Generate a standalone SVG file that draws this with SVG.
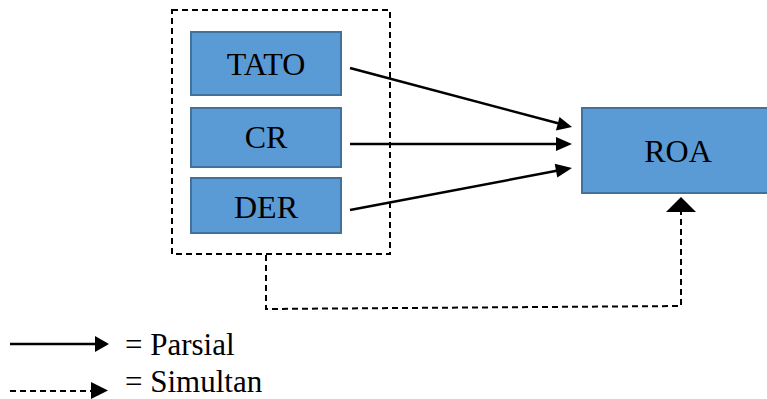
<svg xmlns="http://www.w3.org/2000/svg" width="767" height="399" viewBox="0 0 767 399" font-family="Liberation Serif">
<style>
.box{fill:#5B9BD5;stroke:#41719C;stroke-width:2}
.solid{fill:none;stroke:#000;stroke-width:2.5}
.dash{fill:none;stroke:#000;stroke-width:2;stroke-dasharray:6 4}
</style>
<rect width="767" height="399" fill="#fff"/>
<rect x="172" y="10" width="218" height="244" class="dash"/>
<g id="TATO"><rect x="191" y="32" width="150" height="63" class="box"/><text x="266" y="75" style="font-family:'Liberation Serif','Times New Roman',serif;font-size:32px" text-anchor="middle">TATO</text></g>
<g id="CR"><rect x="191" y="108" width="150" height="59" class="box"/><text x="266" y="148" style="font-family:'Liberation Serif','Times New Roman',serif;font-size:32px" text-anchor="middle">CR</text></g>
<g id="DER"><rect x="191" y="178" width="150" height="55" class="box"/><text x="266" y="218" style="font-family:'Liberation Serif','Times New Roman',serif;font-size:32px" text-anchor="middle">DER</text></g>
<g id="ROA"><rect x="582" y="108" width="194" height="85" class="box"/><text x="678" y="162" style="font-family:'Liberation Serif','Times New Roman',serif;font-size:32px" text-anchor="middle">ROA</text></g>
<g id="connectors">
<line x1="350" y1="68" x2="558" y2="123.3" class="solid"/>
<path d="M572,127 L555.9,130.5 L559.5,116.9 Z"/>
<line x1="350" y1="144" x2="558" y2="144" class="solid"/>
<path d="M572,144 L556,151 L556,137 Z"/>
<line x1="350" y1="210" x2="558" y2="170.6" class="solid"/>
<path d="M572,168 L557.3,177.5 L554.7,163.7 Z"/>
<path d="M266,255 V309 L681,306 V212" class="dash"/>
<path d="M666,212 L681,197 L696,212 Z"/>
</g>
<g id="legend">
<line x1="10" y1="344" x2="95" y2="344" class="solid"/>
<path d="M95,336 L109,344 L95,352 Z"/>
<line x1="10" y1="391" x2="91" y2="391" class="dash"/>
<path d="M91,382 L108,390.5 L91,399 Z"/>
<text x="125" y="355" style="font-family:'Liberation Serif','Times New Roman',serif;font-size:31px">= Parsial</text>
<text x="125" y="392" style="font-family:'Liberation Serif','Times New Roman',serif;font-size:31px">= Simultan</text>
</g>
</svg>
